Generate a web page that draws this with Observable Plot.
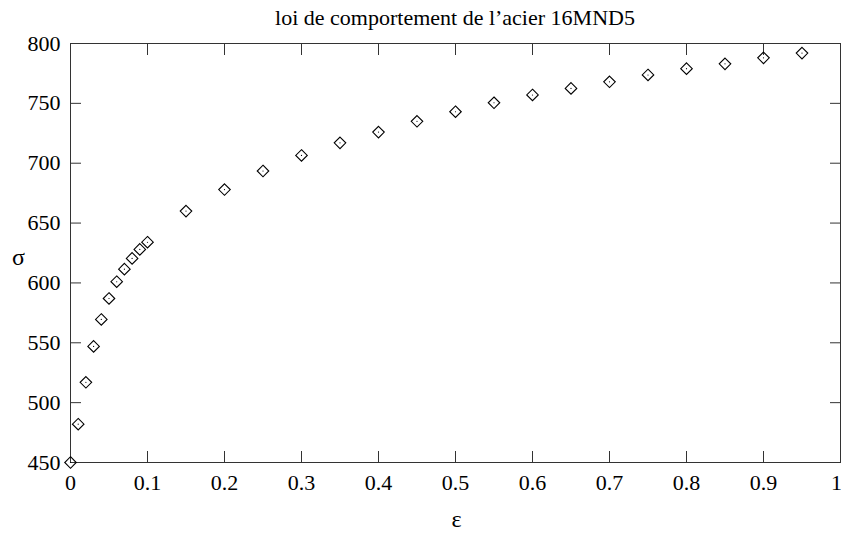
<!DOCTYPE html>
<html><head><meta charset="utf-8">
<script src="https://cdn.jsdelivr.net/npm/d3@7"></script>
<script src="https://cdn.jsdelivr.net/npm/@observablehq/plot@0.6"></script>
<style>
body{margin:0;background:#fff;}
#title{width:841px;height:22px;line-height:22px;padding-top:7px;box-sizing:content-box;padding-left:70px;padding-right:1px;text-align:center;font-family:"Liberation Serif";font-size:22px;color:#000;white-space:nowrap;}
#title{width:770px;}
</style></head><body>
<div id="title">loi de comportement de l’acier 16MND5</div>
<div id="chart"></div>
<script>
const epsilon = [0, 0.01, 0.02, 0.03, 0.04, 0.05, 0.06, 0.07, 0.08, 0.09, 0.1,
  0.15, 0.2, 0.25, 0.3, 0.35, 0.4, 0.45, 0.5, 0.55, 0.6, 0.65, 0.7, 0.75, 0.8, 0.85, 0.9, 0.95];
const sigma = [450, 482, 517, 547, 569.5, 587, 601, 611.5, 620.5, 628, 634,
  660, 678, 693.5, 706.5, 717, 726, 735, 743, 750.5, 757, 762.5, 768, 773.7, 779, 783, 788, 792];
const xTicks = [0, 0.1, 0.2, 0.3, 0.4, 0.5, 0.6, 0.7, 0.8, 0.9, 1];
const xTickLabels = ["0", "0.1", "0.2", "0.3", "0.4", "0.5", "0.6", "0.7", "0.8", "0.9", "1"];
const yTicks = [450, 500, 550, 600, 650, 700, 750, 800];
const xLabel = "ε";
const yLabel = "σ";

const data = epsilon.map((e, i) => ({e, s: sigma[i]}));
const fmtX = d => xTickLabels[xTicks.indexOf(d)];
const ink = "#333";
const innerTicks = xTicks.slice(0, -1);
const lastTick = xTicks.slice(-1);

const chart = Plot.plot({
  width: 841, height: 504,
  marginTop: 14, marginBottom: 71, marginLeft: 70, marginRight: 1,
  style: {fontFamily: "Liberation Serif", fontSize: "22px", background: "#fff", color: "#000", overflow: "visible"},
  x: {domain: [0, 1], label: null},
  y: {domain: [450, 800], label: null},
  marks: [
    Plot.frame({stroke: ink}),
    Plot.axisX(xTicks, {anchor: "bottom", tickSize: -11, fill: "none", stroke: ink, label: null}),
    Plot.axisX(xTicks, {anchor: "top", tickSize: -11, fill: "none", stroke: ink, label: null}),
    Plot.axisX(innerTicks, {anchor: "bottom", tickSize: 0, tickPadding: 12, tickFormat: fmtX, fill: "#000", label: null}),
    Plot.axisX(lastTick, {anchor: "bottom", tickSize: 0, tickPadding: 12, tickFormat: fmtX, fill: "#000", label: null, dx: -4}),
    Plot.axisY(yTicks, {anchor: "left", tickSize: -11, fill: "none", stroke: ink, label: null}),
    Plot.axisY(yTicks, {anchor: "right", tickSize: -11, fill: "none", stroke: ink, label: null}),
    Plot.axisY(yTicks, {anchor: "left", tickSize: 0, tickPadding: 10, tickFormat: d => String(d), fill: "#000", label: null}),
    Plot.dot(data, {x: "e", y: "s", symbol: "diamond2", r: 5.2, stroke: "#000", strokeWidth: 1.1, fill: "none"}),
    Plot.dot(data, {x: "e", y: "s", r: 0.6, fill: "#000", stroke: "none"}),
    Plot.text([yLabel], {text: d => d, frameAnchor: "left", dx: -52, dy: 4, textAnchor: "middle", fontSize: 24}),
    Plot.text([xLabel], {text: d => d, frameAnchor: "bottom", dy: 57, dx: 1, textAnchor: "middle", lineAnchor: "middle", fontSize: 24})
  ]
});
document.getElementById("chart").appendChild(chart);
</script>
</body></html>
